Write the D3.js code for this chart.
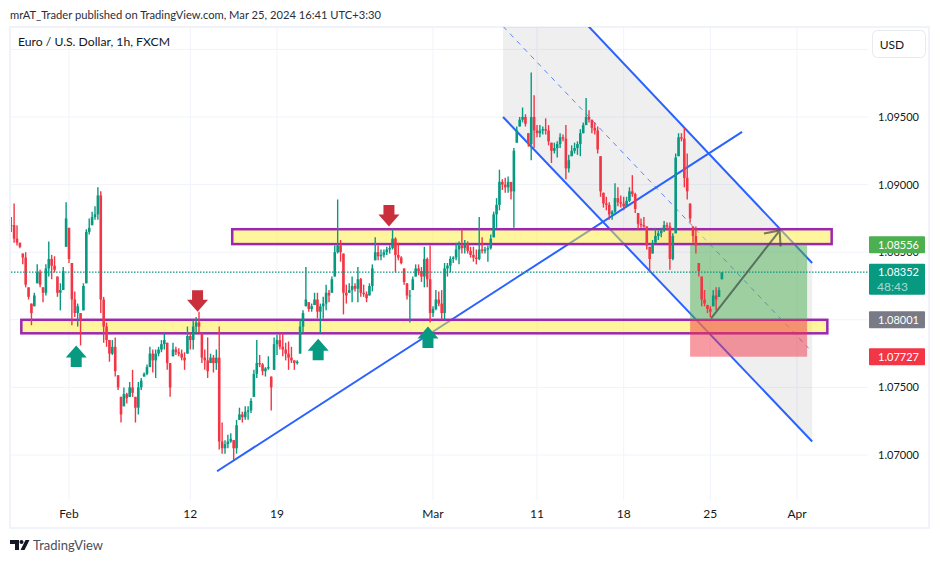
<!DOCTYPE html>
<html>
<head>
<meta charset="utf-8">
<script src="https://cdn.jsdelivr.net/npm/d3@7"></script>
<style>
  html, body { margin: 0; padding: 0; background: #fff; }
  text { font-family: Lato, "Noto Sans", sans-serif; }
</style>
</head>
<body>
<div id="app"></div>
<script>
// 4h bars, first bar at hour -80 (hours are trading hours from Feb 1)
const firstHour = -80, barHours = 4;

const highs = [
  1.0876,1.0886,1.0870,1.0857,1.0849,1.0850,1.0824,1.0812,1.0820,1.0841,1.0837,1.0824,1.0841,1.0858,1.0848,1.0847,1.0832,1.0827,1.0839,1.0887,
  1.0868,1.0842,1.0821,1.0812,1.0805,1.0827,1.0867,1.0875,1.0880,1.0884,1.0898,1.0895,1.0817,1.0798,1.0785,1.0785,1.0787,1.0759,1.0743,1.0750,
  1.0746,1.0754,1.0763,1.0743,1.0754,1.0757,1.0761,1.0767,1.0780,1.0778,1.0778,1.0780,1.0785,1.0790,1.0783,1.0768,1.0783,1.0780,1.0779,1.0778,
  1.0776,1.0795,1.0790,1.0800,1.0802,1.0806,1.0790,1.0778,1.0787,1.0775,1.0774,1.0778,1.0795,1.0724,1.0711,1.0715,1.0716,1.0711,1.0726,1.0735,
  1.0732,1.0736,1.0736,1.0742,1.0763,1.0785,1.0774,1.0768,1.0765,1.0773,1.0758,1.0787,1.0789,1.0790,1.0790,1.0783,1.0784,1.0780,1.0770,1.0770,
  1.0800,1.0807,1.0839,1.0813,1.0812,1.0820,1.0820,1.0812,1.0817,1.0826,1.0822,1.0832,1.0855,1.0889,1.0859,1.0849,1.0826,1.0827,1.0832,1.0827,
  1.0839,1.0831,1.0826,1.0821,1.0827,1.0841,1.0861,1.0855,1.0852,1.0852,1.0854,1.0855,1.0867,1.0861,1.0857,1.0847,1.0838,1.0827,1.0822,1.0832,
  1.0841,1.0841,1.0839,1.0854,1.0846,1.0855,1.0810,1.0822,1.0821,1.0822,1.0842,1.0842,1.0847,1.0847,1.0857,1.0858,1.0867,1.0859,1.0858,1.0854,
  1.0854,1.0852,1.0876,1.0861,1.0854,1.0855,1.0863,1.0880,1.0890,1.0911,1.0904,1.0905,1.0906,1.0902,1.0927,1.0943,1.0950,1.0957,1.0952,1.0938,
  1.0983,1.0966,1.0944,1.0944,1.0943,1.0949,1.0944,1.0931,1.0931,1.0932,1.0938,1.0937,1.0944,1.0922,1.0929,1.0931,1.0932,1.0941,1.0946,1.0964,
  1.0955,1.0948,1.0946,1.0943,1.0921,1.0894,1.0891,1.0887,1.0881,1.0901,1.0898,1.0892,1.0891,1.0891,1.0898,1.0907,1.0894,1.0879,1.0875,1.0876,
  1.0869,1.0854,1.0859,1.0868,1.0866,1.0868,1.0873,1.0872,1.0872,1.0864,1.0923,1.0938,1.0938,1.0942,1.0923,1.0886,1.0869,1.0869,1.0842,1.0832,
  1.0822,1.0811,1.0810,1.0822,1.0824,1.0824,1.0835
];
const lows = [
  1.0865,1.0857,1.0855,1.0853,1.0841,1.0824,1.0815,1.0796,1.0810,1.0827,1.0824,1.0813,1.0818,1.0832,1.0830,1.0835,1.0817,1.0807,1.0822,1.0854,
  1.0842,1.0796,1.0802,1.0795,1.0781,1.0807,1.0827,1.0863,1.0870,1.0874,1.0874,1.0805,1.0783,1.0780,1.0769,1.0774,1.0758,1.0748,1.0724,1.0736,
  1.0738,1.0743,1.0743,1.0724,1.0730,1.0748,1.0758,1.0759,1.0765,1.0761,1.0757,1.0773,1.0776,1.0778,1.0763,1.0743,1.0773,1.0774,1.0773,1.0770,
  1.0763,1.0775,1.0778,1.0778,1.0790,1.0790,1.0768,1.0763,1.0757,1.0768,1.0761,1.0763,1.0704,1.0701,1.0701,1.0705,1.0709,1.0696,1.0701,1.0726,
  1.0724,1.0726,1.0726,1.0731,1.0743,1.0757,1.0765,1.0759,1.0758,1.0763,1.0733,1.0763,1.0774,1.0778,1.0773,1.0770,1.0763,1.0768,1.0763,1.0767,
  1.0775,1.0790,1.0810,1.0806,1.0806,1.0811,1.0801,1.0790,1.0801,1.0807,1.0813,1.0820,1.0832,1.0849,1.0843,1.0804,1.0812,1.0820,1.0813,1.0821,
  1.0813,1.0817,1.0817,1.0813,1.0818,1.0821,1.0844,1.0844,1.0844,1.0846,1.0848,1.0849,1.0852,1.0835,1.0844,1.0841,1.0826,1.0815,1.0798,1.0822,
  1.0832,1.0833,1.0828,1.0824,1.0824,1.0798,1.0802,1.0807,1.0810,1.0800,1.0800,1.0832,1.0835,1.0842,1.0844,1.0841,1.0849,1.0849,1.0849,1.0846,
  1.0843,1.0841,1.0844,1.0849,1.0849,1.0843,1.0852,1.0861,1.0868,1.0881,1.0896,1.0894,1.0894,1.0889,1.0868,1.0931,1.0943,1.0946,1.0943,1.0928,
  1.0918,1.0927,1.0935,1.0935,1.0937,1.0937,1.0929,1.0916,1.0923,1.0920,1.0927,1.0932,1.0904,1.0909,1.0921,1.0923,1.0922,1.0921,1.0938,1.0944,
  1.0946,1.0938,1.0937,1.0923,1.0891,1.0883,1.0881,1.0874,1.0874,1.0879,1.0884,1.0883,1.0881,1.0884,1.0887,1.0891,1.0879,1.0867,1.0868,1.0868,
  1.0852,1.0835,1.0849,1.0857,1.0859,1.0861,1.0865,1.0867,1.0837,1.0844,1.0864,1.0921,1.0932,1.0898,1.0889,1.0872,1.0857,1.0849,1.0832,1.0810,
  1.0810,1.0805,1.0802,1.0810,1.0807,1.0817,1.0830
];
const closes = [
  1.0870,1.0860,1.0857,1.0854,1.0846,1.0826,1.0817,1.0805,1.0818,1.0835,1.0826,1.0820,1.0838,1.0845,1.0840,1.0837,1.0820,1.0822,1.0836,1.0875,
  1.0845,1.0815,1.0805,1.0810,1.0800,1.0825,1.0865,1.0868,1.0876,1.0878,1.0892,1.0815,1.0795,1.0785,1.0775,1.0780,1.0762,1.0750,1.0730,1.0745,
  1.0742,1.0750,1.0746,1.0735,1.0750,1.0755,1.0760,1.0765,1.0775,1.0770,1.0775,1.0778,1.0782,1.0785,1.0768,1.0750,1.0778,1.0776,1.0775,1.0772,
  1.0770,1.0788,1.0785,1.0795,1.0798,1.0795,1.0772,1.0770,1.0762,1.0772,1.0768,1.0772,1.0710,1.0705,1.0708,1.0710,1.0712,1.0705,1.0722,1.0730,
  1.0728,1.0732,1.0733,1.0740,1.0760,1.0768,1.0767,1.0762,1.0764,1.0765,1.0750,1.0782,1.0785,1.0780,1.0778,1.0775,1.0772,1.0770,1.0768,1.0769,
  1.0795,1.0805,1.0815,1.0808,1.0810,1.0815,1.0806,1.0810,1.0812,1.0820,1.0818,1.0830,1.0850,1.0855,1.0850,1.0820,1.0818,1.0822,1.0825,1.0823,
  1.0830,1.0820,1.0819,1.0816,1.0825,1.0838,1.0850,1.0847,1.0848,1.0850,1.0852,1.0853,1.0860,1.0848,1.0846,1.0842,1.0828,1.0818,1.0818,1.0830,
  1.0838,1.0836,1.0832,1.0845,1.0830,1.0805,1.0808,1.0815,1.0812,1.0805,1.0838,1.0840,1.0845,1.0846,1.0852,1.0855,1.0853,1.0856,1.0851,1.0848,
  1.0846,1.0845,1.0852,1.0851,1.0852,1.0853,1.0860,1.0878,1.0885,1.0902,1.0900,1.0898,1.0902,1.0895,1.0925,1.0940,1.0948,1.0950,1.0945,1.0930,
  1.0950,1.0940,1.0938,1.0940,1.0941,1.0940,1.0932,1.0925,1.0927,1.0930,1.0935,1.0934,1.0912,1.0918,1.0925,1.0927,1.0930,1.0938,1.0944,1.0950,
  1.0948,1.0942,1.0940,1.0926,1.0895,1.0886,1.0885,1.0878,1.0880,1.0890,1.0887,1.0886,1.0884,1.0888,1.0895,1.0893,1.0882,1.0871,1.0870,1.0869,
  1.0855,1.0845,1.0856,1.0862,1.0864,1.0866,1.0870,1.0869,1.0845,1.0862,1.0920,1.0935,1.0934,1.0905,1.0895,1.0875,1.0862,1.0855,1.0836,1.0815,
  1.0812,1.0808,1.0806,1.0818,1.0815,1.0822,1.0835
];

const priceTicks = [1.10, 1.095, 1.09, 1.085, 1.08, 1.075, 1.07];
const priceLabels = ["", "1.09500", "1.09000", "1.08500", "", "1.07500", "1.07000"];
const timeTickHours = [0, 168, 288, 504, 648, 768, 888, 1008];
const timeLabels = ["Feb", "12", "19", "Mar", "11", "18", "25", "Apr"];

// drawings: [hour, price]
const zones = [
  {from: 226, to: 1056, top: 1.0867, bottom: 1.0856},
  {from: -66, to: 1050, top: 1.0800, bottom: 1.0790}
];
const channelTop = [[601, 1.1084], [1029, 1.0842]];
const channelBottom = [[601, 1.0950], [1029, 1.0710]];
const channelMid = [[601, 1.1017], [1024, 1.0779]];
const trendLine = [[205, 1.0688], [932, 1.0939]];
const positionHours = [860, 1022];
const targetPrice = 1.08556, entryPrice = 1.08001, stopPrice = 1.07727, lastPrice = 1.08352;
const moveArrow = [[889, 1.0801], [984, 1.0866]];
const upArrows = [[10, 1.0781], [345, 1.0786], [497, 1.0795]];
const downArrows = [[178, 1.0806], [443, 1.0869]];

const width = 939, height = 563;
const pane = {left: 11, right: 868, top: 27, bottom: 500};

const x = d3.scaleLinear().domain([0, 1008]).range([69, 797]);
const y = d3.scaleLinear().domain([1.07, 1.095]).range([455, 117]);

const upColor = "#089981", downColor = "#f23645", blue = "#2962ff";
const gridColor = "#f0f3fa";
const priceWidth = 41; // reference font is narrower than anything installed

const svg = d3.select("#app").append("svg")
    .attr("width", width)
    .attr("height", height)
    .attr("viewBox", [0, 0, width, height])
    .style("display", "block");

svg.append("defs").append("clipPath").attr("id", "pane")
  .append("rect")
    .attr("x", pane.left)
    .attr("y", pane.top)
    .attr("width", pane.right - pane.left)
    .attr("height", pane.bottom - pane.top);

// header and outer frame
svg.append("text")
    .attr("x", 10).attr("y", 19)
    .attr("font-size", 12).attr("fill", "#2a2e39")
    .attr("textLength", 371).attr("lengthAdjust", "spacingAndGlyphs")
    .text("mrAT_Trader published on TradingView.com, Mar 25, 2024 16:41 UTC+3:30");

svg.append("rect")
    .attr("x", 10).attr("y", 27)
    .attr("width", 919).attr("height", 501)
    .attr("fill", "none")
    .attr("stroke", gridColor)
    .attr("stroke-width", 2);

// grid
svg.append("g").selectAll("line")
  .data(priceTicks)
  .join("line")
    .attr("x1", pane.left).attr("x2", pane.right)
    .attr("y1", d => y(d)).attr("y2", d => y(d))
    .attr("stroke", gridColor);

svg.append("g").selectAll("line")
  .data(timeTickHours)
  .join("line")
    .attr("x1", d => x(d)).attr("x2", d => x(d))
    .attr("y1", pane.top).attr("y2", pane.bottom)
    .attr("stroke", gridColor);

const chart = svg.append("g").attr("clip-path", "url(#pane)");
const pt = d => [x(d[0]), y(d[1])];

// parallel channel
chart.append("path")
    .attr("d", d3.line()([...channelTop.map(pt), ...channelBottom.map(pt).reverse()]) + "Z")
    .attr("fill", "#787b86")
    .attr("fill-opacity", 0.12);

chart.append("path")
    .attr("d", d3.line()(channelMid.map(pt)))
    .attr("fill", "none")
    .attr("stroke", blue)
    .attr("stroke-opacity", 0.75)
    .attr("stroke-dasharray", "5,5");

chart.selectAll(".solid")
  .data([channelTop, channelBottom, trendLine])
  .join("path")
    .attr("class", "solid")
    .attr("d", d => d3.line()(d.map(pt)))
    .attr("fill", "none")
    .attr("stroke", blue)
    .attr("stroke-width", 2);

// zones sit over the lines, the candles sit over the zones
chart.selectAll(".zone")
  .data(zones)
  .join("rect")
    .attr("class", "zone")
    .attr("x", d => x(d.from))
    .attr("y", d => y(d.top))
    .attr("width", d => x(d.to) - x(d.from))
    .attr("height", d => y(d.bottom) - y(d.top))
    .attr("fill", "#ffeb3b")
    .attr("fill-opacity", 0.5)
    .attr("stroke", "#9c27b0")
    .attr("stroke-width", 2.5);

// long position box
chart.append("rect")
    .attr("x", x(positionHours[0]))
    .attr("width", x(positionHours[1]) - x(positionHours[0]))
    .attr("y", y(targetPrice))
    .attr("height", y(entryPrice) - y(targetPrice))
    .attr("fill", "#4caf50")
    .attr("fill-opacity", 0.5);

chart.append("rect")
    .attr("x", x(positionHours[0]))
    .attr("width", x(positionHours[1]) - x(positionHours[0]))
    .attr("y", y(entryPrice))
    .attr("height", y(stopPrice) - y(entryPrice))
    .attr("fill", "#f23645")
    .attr("fill-opacity", 0.5);

// candles, each one opens at the close before it
const bars = closes.map((c, i) => {
  const prev = i ? closes[i - 1] : c;
  return {
    hour: firstHour + i * barHours,
    open: Math.min(highs[i], Math.max(lows[i], prev)),
    high: highs[i],
    low: lows[i],
    close: c
  };
});

const candle = chart.append("g").selectAll("g")
  .data(bars)
  .join("g")
    .attr("fill", d => d.close >= d.open ? upColor : downColor)
    .attr("stroke", d => d.close >= d.open ? upColor : downColor);

candle.append("line")
    .attr("x1", d => x(d.hour)).attr("x2", d => x(d.hour))
    .attr("y1", d => y(d.high)).attr("y2", d => y(d.low))
    .attr("stroke-width", 1.4);

candle.append("rect")
    .attr("x", d => x(d.hour) - 1.3)
    .attr("width", 2.6)
    .attr("y", d => y(Math.max(d.open, d.close)))
    .attr("height", d => Math.max(1, Math.abs(y(d.open) - y(d.close))))
    .attr("stroke", "none");

// last price line
chart.append("line")
    .attr("x1", pane.left).attr("x2", pane.right)
    .attr("y1", y(lastPrice)).attr("y2", y(lastPrice))
    .attr("stroke", upColor)
    .attr("stroke-width", 1.2)
    .attr("stroke-dasharray", "1.5,1.5");

// forecast arrow
const [a0, a1] = moveArrow.map(pt);
const ang = Math.atan2(a1[1] - a0[1], a1[0] - a0[0]);
const head = s => [a1[0] - 16 * Math.cos(ang + s), a1[1] - 16 * Math.sin(ang + s)];
chart.append("path")
    .attr("d", d3.line()([a0, a1]) + d3.line()([head(0.72), a1, head(-0.72)]))
    .attr("fill", "none")
    .attr("stroke", "#3c4a40")
    .attr("stroke-opacity", 0.7)
    .attr("stroke-width", 2);

// hand drawn up / down arrows, tip sits at the given price
const arrowShape = [[0, 0], [10.5, 12], [5.5, 12], [5.5, 21.5], [-5.5, 21.5], [-5.5, 12], [-10.5, 12]];
svg.append("g").selectAll("path")
  .data(upArrows)
  .join("path")
    .attr("transform", d => `translate(${x(d[0])},${y(d[1])})`)
    .attr("d", d3.line()(arrowShape) + "Z")
    .attr("fill", upColor);
svg.append("g").selectAll("path")
  .data(downArrows)
  .join("path")
    .attr("transform", d => `translate(${x(d[0])},${y(d[1])}) scale(1,-1)`)
    .attr("d", d3.line()(arrowShape) + "Z")
    .attr("fill", "#cc2f3c");

// axis labels
svg.append("g").selectAll("text")
  .data(timeTickHours)
  .join("text")
    .attr("x", d => x(d))
    .attr("y", 518)
    .attr("text-anchor", "middle")
    .attr("font-size", 12)
    .attr("fill", "#131722")
    .text((d, i) => timeLabels[i]);

svg.append("g").selectAll("text")
  .data(priceTicks.filter((d, i) => priceLabels[i]))
  .join("text")
    .attr("x", 878)
    .attr("y", d => y(d) + 4)
    .attr("font-size", 12)
    .attr("fill", "#131722")
    .attr("textLength", priceWidth).attr("lengthAdjust", "spacingAndGlyphs")
    .text(d => d.toFixed(5));

// price tags
const tags = [
  {price: targetPrice, fill: "#4caf50"},
  {price: entryPrice, fill: "#787b86"},
  {price: stopPrice, fill: "#f23645"}
];
svg.append("g").selectAll("rect")
  .data(tags)
  .join("rect")
    .attr("x", 869).attr("width", 56)
    .attr("y", d => y(d.price) - 8.5).attr("height", 17)
    .attr("rx", 1)
    .attr("fill", d => d.fill);
svg.append("g").selectAll("text")
  .data(tags)
  .join("text")
    .attr("x", 878)
    .attr("y", d => y(d.price) + 4)
    .attr("font-size", 12)
    .attr("fill", "#fff")
    .attr("textLength", priceWidth).attr("lengthAdjust", "spacingAndGlyphs")
    .text(d => d.price.toFixed(5));

svg.append("rect")
    .attr("x", 869).attr("width", 56)
    .attr("y", y(lastPrice) - 8.5).attr("height", 31)
    .attr("rx", 1)
    .attr("fill", upColor);
svg.append("text")
    .attr("x", 878).attr("y", y(lastPrice) + 4)
    .attr("font-size", 12)
    .attr("fill", "#fff")
    .attr("textLength", priceWidth).attr("lengthAdjust", "spacingAndGlyphs")
    .text(lastPrice.toFixed(5));
svg.append("text")
    .attr("x", 877).attr("y", y(lastPrice) + 19)
    .attr("font-size", 12)
    .attr("fill", "#fff")
    .attr("fill-opacity", 0.65)
    .text("48:43");

// title and currency button
svg.append("text")
    .attr("x", 18).attr("y", 46)
    .attr("font-size", 12)
    .attr("fill", "#131722")
    .attr("textLength", 152).attr("lengthAdjust", "spacingAndGlyphs")
    .text("Euro / U.S. Dollar, 1h, FXCM");

svg.append("rect")
    .attr("x", 872.5).attr("y", 30.5)
    .attr("width", 53).attr("height", 27)
    .attr("rx", 5)
    .attr("fill", "#fff")
    .attr("stroke", "#e8eaf0");
svg.append("text")
    .attr("x", 892).attr("y", 49)
    .attr("text-anchor", "middle")
    .attr("font-size", 12)
    .attr("fill", "#131722")
    .text("USD");

// footer logo
svg.append("path")
    .attr("transform", "translate(10,540)")
    .attr("d", "M0 0H9V10H5V4H0Z M10.5 10L15.5 0H19.5L14.5 10Z")
    .attr("fill", "#131722");
svg.append("circle")
    .attr("cx", 21.5).attr("cy", 542)
    .attr("r", 2)
    .attr("fill", "#131722");
svg.append("text")
    .attr("x", 33).attr("y", 550)
    .attr("font-size", 14)
    .attr("fill", "#4a4e59")
    .attr("textLength", 70).attr("lengthAdjust", "spacingAndGlyphs")
    .text("TradingView");
</script>
</body>
</html>
